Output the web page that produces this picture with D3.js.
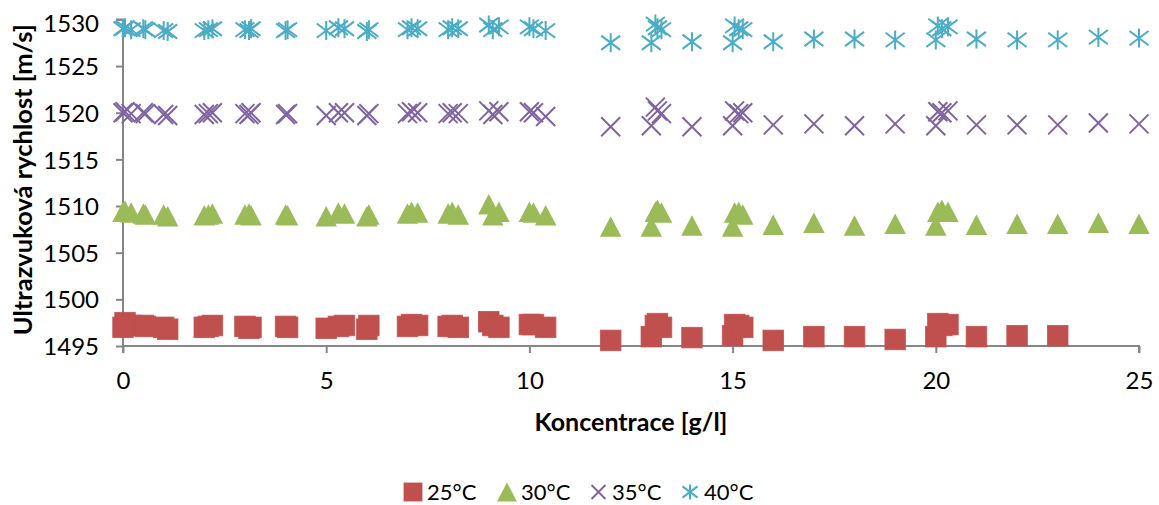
<!DOCTYPE html>
<html>
<head>
<meta charset="utf-8">
<script src="https://cdn.jsdelivr.net/npm/d3@7"></script>
<style>
  html, body { margin: 0; padding: 0; background: #fff; }
  svg { display: block; }
  text { font-family: Lato, "Open Sans", sans-serif; fill: #000; }
</style>
</head>
<body>
<svg id="chart" width="1159" height="505"></svg>
<script>
// ---------- data ----------
const concentration = [0, 0.05, 0.2, 0.5, 0.55, 1.0, 1.1, 2.0, 2.1, 2.2, 3.0, 3.1, 3.15, 4.0, 4.05, 5.0, 5.3, 5.45, 6.0, 6.05, 7.0, 7.1, 7.25, 8.0, 8.1, 8.25, 9.0, 9.1, 9.25, 10.0, 10.1, 10.4,
  12, 13, 13.1, 13.15, 13.25, 14, 15, 15.05, 15.15, 15.25, 16, 17, 18, 19, 20, 20.05, 20.15, 20.3, 21, 22, 23, 24, 25];

const t25 = [1497.0, 1497.5, 1497.2, 1497.2, 1497.1, 1497.0, 1496.8, 1497.0, 1497.1, 1497.2, 1497.1, 1496.9, 1497.0, 1497.1, 1497.0, 1496.9, 1497.1, 1497.2, 1496.8, 1497.2, 1497.1, 1497.3, 1497.2, 1497.1, 1497.2, 1497.0, 1497.6, 1497.2, 1497.0, 1497.3, 1497.3, 1497.0,
  1495.6, 1496.0, 1497.2, 1497.4, 1497.0, 1495.9, 1496.1, 1497.3, 1497.2, 1497.0, 1495.6, 1496.0, 1496.0, 1495.7, 1496.0, 1497.4, 1497.2, 1497.3, 1496.0, 1496.1, 1496.1, null, null];

const t30 = [1509.4, 1509.5, 1509.3, 1509.2, 1509.1, 1509.1, 1508.9, 1509.0, 1509.1, 1509.2, 1509.1, 1509.2, 1509.0, 1509.1, 1509.0, 1508.9, 1509.3, 1509.2, 1508.9, 1509.1, 1509.2, 1509.4, 1509.3, 1509.2, 1509.4, 1509.1, 1510.2, 1509.0, 1509.4, 1509.4, 1509.3, 1509.0,
  1507.8, 1507.8, 1509.4, 1509.6, 1509.3, 1507.9, 1507.8, 1509.3, 1509.4, 1509.1, 1508.0, 1508.2, 1507.9, 1508.1, 1507.9, 1509.4, 1509.6, 1509.4, 1508.0, 1508.1, 1508.1, 1508.2, 1508.1];

const t35 = [1520.0, 1520.1, 1519.9, 1520.0, 1519.9, 1519.8, 1519.7, 1519.8, 1519.9, 1520.0, 1519.9, 1519.8, 1520.0, 1519.8, 1519.9, 1519.7, 1520.0, 1520.0, 1519.7, 1519.9, 1519.9, 1520.1, 1520.0, 1519.9, 1520.0, 1519.9, 1520.2, 1519.8, 1520.1, 1520.1, 1520.0, 1519.6,
  1518.5, 1518.6, 1520.6, 1520.2, 1519.9, 1518.5, 1518.6, 1520.2, 1519.9, 1520.0, 1518.7, 1518.8, 1518.6, 1518.8, 1518.6, 1520.1, 1520.0, 1520.2, 1518.7, 1518.7, 1518.7, 1518.9, 1518.8];

const t40 = [1529.0, 1529.1, 1528.9, 1529.0, 1528.9, 1528.8, 1528.7, 1528.8, 1528.9, 1529.0, 1528.9, 1528.8, 1529.0, 1528.8, 1528.9, 1528.8, 1529.1, 1529.0, 1528.7, 1528.9, 1528.9, 1529.1, 1529.0, 1528.9, 1529.1, 1529.0, 1529.4, 1528.9, 1529.2, 1529.2, 1529.0, 1528.8,
  1527.5, 1527.5, 1529.5, 1529.1, 1528.9, 1527.6, 1527.5, 1529.3, 1529.0, 1528.9, 1527.6, 1527.9, 1527.9, 1527.8, 1527.8, 1529.3, 1529.0, 1529.2, 1527.9, 1527.8, 1527.8, 1528.1, 1528.0];

const seriesNames = ["25°C", "30°C", "35°C", "40°C"];
const seriesValues = [t25, t30, t35, t40];
const seriesColors = ["#C0504D", "#9BBB59", "#8064A2", "#4BACC6"];
const seriesShapes = ["square", "triangle", "x", "star"];

const xTicks = [0, 5, 10, 15, 20, 25];
const yTicks = [1495, 1500, 1505, 1510, 1515, 1520, 1525, 1530];
const xTitle = "Koncentrace [g/l]";
const yTitle = "Ultrazvuková rychlost [m/s]";

// ---------- layout ----------
const svg = d3.select("#chart");
const plot = { left: 123, right: 1139, top: 19.4, bottom: 346 };
const x = d3.scaleLinear().domain([0, 25]).range([plot.left, plot.right]);
const y = d3.scaleLinear().domain([1495, 1530]).range([plot.bottom, plot.top]);
const axisColor = "#868686";
const tickFont = "24px";

// axes
const yAxis = svg.append("g").attr("transform", `translate(${plot.left},0)`)
  .call(d3.axisLeft(y).tickValues(yTicks).tickFormat(d3.format("d")).tickSize(7).tickPadding(17));
const xAxis = svg.append("g").attr("transform", `translate(0,${plot.bottom})`)
  .call(d3.axisBottom(x).tickValues(xTicks).tickFormat(d3.format("d")).tickSize(7).tickPadding(19));
[yAxis, xAxis].forEach(g => {
  g.select(".domain").attr("stroke", axisColor).attr("stroke-width", 2);
  g.selectAll(".tick line").attr("stroke", axisColor).attr("stroke-width", 2);
  g.selectAll(".tick text").style("font-family", "Lato, 'Open Sans', sans-serif").style("font-size", tickFont).attr("fill", "#000");
});
yAxis.selectAll(".tick text").attr("dy", d => d === 1530 ? "0.52em" : "0.36em");
xAxis.select(".domain").attr("d", `M${plot.left},7V0H${plot.right}V7`);
yAxis.select(".domain").attr("d", `M-7,${y(1530)}H0V${plot.bottom}`);

// titles
svg.append("text").attr("x", (plot.left + plot.right) / 2).attr("y", 431)
  .attr("text-anchor", "middle").style("font-size", "25px").style("font-weight", "bold").text(xTitle);
svg.append("text").attr("transform", `translate(32,${(plot.top + plot.bottom) / 2 - 3}) rotate(-90)`)
  .attr("text-anchor", "middle").style("font-size", "25.5px").style("font-weight", "bold").text(yTitle);

// markers
function drawMarker(g, shape, color, cx, cy, s) {
  const h = s / 2;
  if (shape === "square") {
    g.append("rect").attr("x", cx - h).attr("y", cy - h).attr("width", s).attr("height", s)
      .attr("fill", color).attr("stroke", color).attr("stroke-width", 1).attr("stroke-opacity", 0.8);
  } else if (shape === "triangle") {
    g.append("path").attr("d", `M${cx},${cy - h}L${cx + h * 1.05},${cy + h}L${cx - h * 1.05},${cy + h}Z`)
      .attr("fill", color);
  } else if (shape === "x") {
    g.append("path").attr("d", `M${cx - h},${cy - h}L${cx + h},${cy + h}M${cx - h},${cy + h}L${cx + h},${cy - h}`)
      .attr("stroke", color).attr("stroke-width", 2).attr("fill", "none");
  } else {
    g.append("path").attr("d", `M${cx - h},${cy - h * 0.75}L${cx + h},${cy + h * 0.75}M${cx - h},${cy + h * 0.75}L${cx + h},${cy - h * 0.75}M${cx},${cy - h}L${cx},${cy + h}`)
      .attr("stroke", color).attr("stroke-width", 2).attr("fill", "none");
  }
}

const sizes = { square: 20.5, triangle: 20.5, x: 19, star: 19 };
seriesValues.forEach((vals, si) => {
  const g = svg.append("g");
  vals.forEach((v, i) => {
    if (v == null) return;
    drawMarker(g, seriesShapes[si], seriesColors[si], x(concentration[i]), y(v), sizes[seriesShapes[si]]);
  });
});

// legend
const legendItems = [
  { mx: 413, tx: 427 },
  { mx: 507, tx: 521 },
  { mx: 598.5, tx: 612 },
  { mx: 690, tx: 704 }
];
const legendSizes = { square: 18, triangle: 19, x: 14, star: 15 };
const ly = 492;
const lg = svg.append("g");
legendItems.forEach((it, i) => {
  drawMarker(lg, seriesShapes[i], seriesColors[i], it.mx, ly, legendSizes[seriesShapes[i]]);
  lg.append("text").attr("x", it.tx).attr("y", ly).attr("dy", "0.36em")
    .style("font-size", "22px").text(seriesNames[i]);
});
</script>
</body>
</html>
